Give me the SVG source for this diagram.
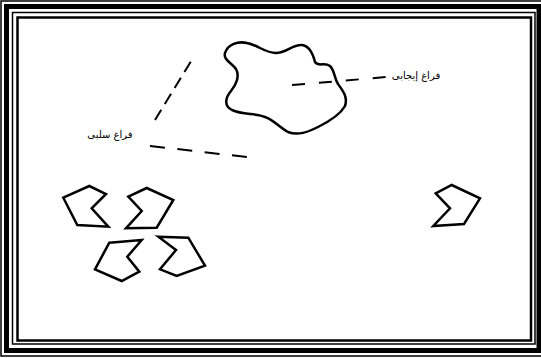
<svg xmlns="http://www.w3.org/2000/svg" width="541" height="358" viewBox="0 0 541 358">
<style>
.frame{fill:none;stroke:#000}
.shape{fill:none;stroke:#000;stroke-width:2.5;stroke-linejoin:miter}
.dash{fill:none;stroke:#000;stroke-width:2}
.lbl{font-family:"DejaVu Sans",sans-serif;font-size:10px;fill:#000;text-anchor:middle}
</style>
<rect width="541" height="358" fill="#fff"/>
<g id="frame">
<rect class="frame" x="1" y="1" width="545" height="355" stroke-width="1.5"/>
<rect class="frame" x="6.5" y="6.5" width="532.5" height="344" stroke-width="5"/>
<rect class="frame" x="12.5" y="12.5" width="522.5" height="331.5" stroke-width="1.5"/>
<rect class="frame" x="17.5" y="17.5" width="513.5" height="323" stroke-width="2.5"/>
</g>
<g id="blob">
<path class="shape" d="M225,53 C228,44 238,41 247,43 C258,45 265,53 276,53 C286,53 293,44 302,45 C310,46 313,54 315,62 C318,67 325,62 330,66 C335,71 334,78 338,84 C343,91 348,97 345,106 C340,115 328,122 318,127 C308,132 298,136 288,132 C280,128 274,120 265,117 C256,113 243,115 232,110 C224,106 225,98 231,91 C236,85 240,76 236,69 C232,63 223,60 225,53 Z"/>
</g>
<g id="shape1"><polygon class="shape" points="63.3,197.7 89.3,186 106,194 91.7,208.3 108.3,226.7 77.3,225"/></g>
<g id="shape2"><polygon class="shape" points="128.3,196.7 146.7,188 173.3,200 156.7,227.7 126,228.3 141.7,211"/></g>
<g id="shape3"><polygon class="shape" points="109.3,242.7 141.7,240 127.3,256.7 139.3,271.7 121.7,281 95,269.3"/></g>
<g id="shape4"><polygon class="shape" points="158.3,236.7 188.3,237.7 205,265.7 176.7,276 160,269.3 176,250"/></g>
<g id="shape5"><polygon class="shape" points="435.7,193.3 451.7,185 480,198.3 464,224 433.3,226 450,208.3"/></g>
<g id="connectors">
<line class="dash" x1="190.7" y1="61.7" x2="155" y2="120" stroke-dasharray="12 6.8"/>
<line class="dash" x1="150" y1="146" x2="247" y2="157" stroke-dasharray="15 12.5"/>
<line class="dash" x1="292" y1="85" x2="387" y2="77" stroke-dasharray="13 14"/>
</g>
<g id="label-positive"><text class="lbl" x="416" y="79">فراغ إيجابى</text></g>
<g id="label-negative"><text class="lbl" x="110" y="138">فراغ سلبى</text></g>
</svg>
